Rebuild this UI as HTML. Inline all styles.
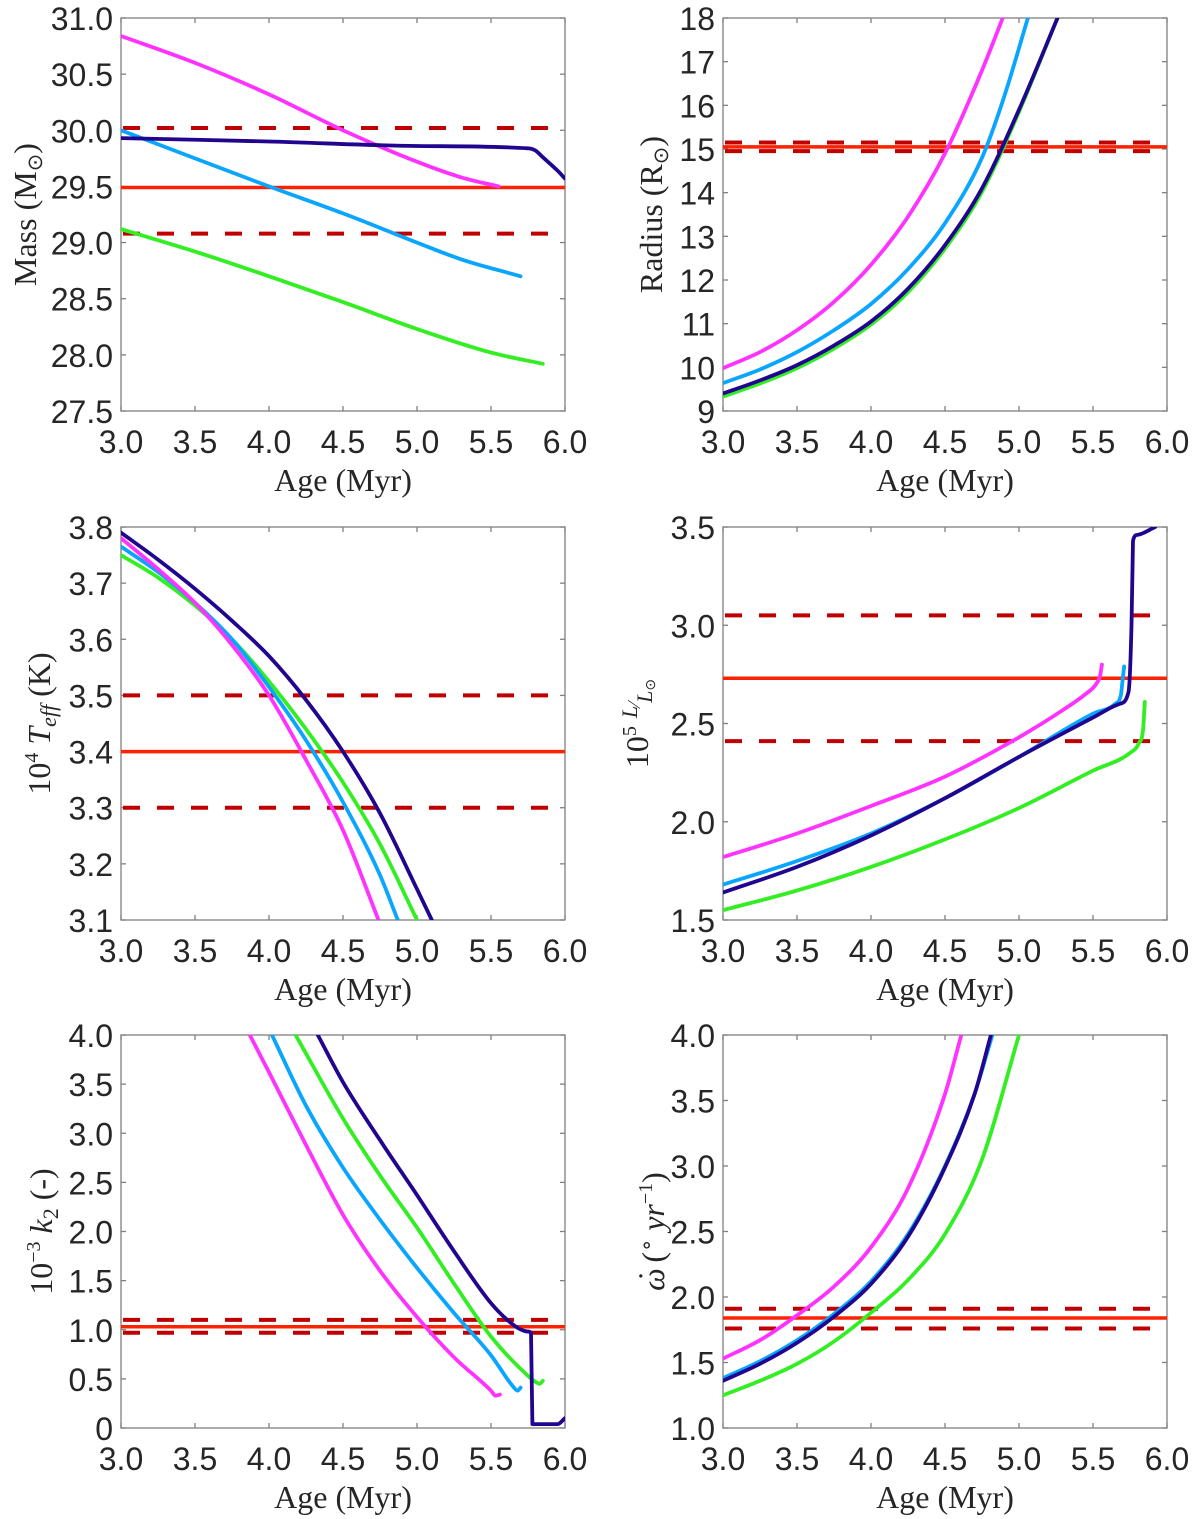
<!DOCTYPE html>
<html><head><meta charset="utf-8"><style>
html,body{margin:0;padding:0;background:#fff;}
svg{display:block;}
.tick{font-family:"Liberation Sans",sans-serif;font-size:32px;fill:#262626;}
.lab{font-family:"Liberation Serif",serif;font-size:32px;fill:#262626;}
</style></head><body>
<svg id="fig" width="1200" height="1519" viewBox="0 0 1200 1519" xmlns="http://www.w3.org/2000/svg"></svg>
<script>
// shared x axis
const xTicks=[3.0,3.5,4.0,4.5,5.0,5.5,6.0];
const xTickLabels=["3.0","3.5","4.0","4.5","5.0","5.5","6.0"];
// Panel 1: mass
const massYTicks=[27.5,28.0,28.5,29.0,29.5,30.0,30.5,31.0];
const massMagX=[3.0,3.5,4.0,4.5,5.0,5.3,5.55];
const massMagY=[30.84,30.6,30.32,30.0,29.72,29.58,29.5];
const massNavyX=[3.0,4.0,5.0,5.75,5.8,5.85,5.95,6.0];
const massNavyY=[29.93,29.9,29.86,29.84,29.82,29.76,29.64,29.57];
const massBlueX=[3.0,3.5,4.0,4.5,5.0,5.3,5.7];
const massBlueY=[30.0,29.75,29.5,29.26,29.0,28.85,28.7];
const massGreenX=[3.0,3.5,4.0,4.5,5.0,5.5,5.85];
const massGreenY=[29.12,28.92,28.7,28.47,28.23,28.02,27.92];
const massRef=[29.49,30.02,29.08];
// Panel 2: radius
const radYTicks=[9,10,11,12,13,14,15,16,17,18];
const radMagX=[3.0,3.25,3.5,3.75,4.0,4.25,4.5,4.75,4.89];
const radMagY=[9.98,10.35,10.85,11.5,12.35,13.45,14.9,16.8,18.0];
const radBlueX=[3.0,3.25,3.5,3.75,4.0,4.25,4.5,4.75,4.9,5.06];
const radBlueY=[9.64,9.95,10.35,10.85,11.45,12.25,13.3,14.8,16.2,18.0];
const radNavyX=[3.0,3.25,3.5,3.75,4.0,4.25,4.5,4.75,5.0,5.26];
const radNavyY=[9.4,9.7,10.05,10.5,11.05,11.8,12.8,14.1,15.9,18.0];
const radGreenX=[3.0,3.25,3.5,3.75,4.0,4.25,4.5,4.75,5.0,5.26];
const radGreenY=[9.33,9.63,9.98,10.43,10.98,11.72,12.72,14.02,15.85,18.0];
const radRef=[15.05,15.15,14.95];
// Panel 3: Teff
const teffYTicks=[3.1,3.2,3.3,3.4,3.5,3.6,3.7,3.8];
const teffNavyX=[3.0,3.25,3.5,3.75,4.0,4.25,4.5,4.75,5.0,5.1];
const teffNavyY=[3.79,3.742,3.69,3.633,3.57,3.492,3.40,3.29,3.155,3.1];
const teffGreenX=[3.0,3.25,3.5,3.75,4.0,4.25,4.5,4.75,5.0];
const teffGreenY=[3.75,3.71,3.66,3.6,3.525,3.44,3.345,3.235,3.1];
const teffBlueX=[3.0,3.25,3.5,3.75,4.0,4.25,4.5,4.75,4.87];
const teffBlueY=[3.765,3.72,3.665,3.6,3.515,3.42,3.31,3.18,3.1];
const teffMagX=[3.0,3.25,3.5,3.75,4.0,4.25,4.5,4.74];
const teffMagY=[3.78,3.725,3.665,3.59,3.5,3.385,3.26,3.1];
const teffRef=[3.4,3.5,3.3];
// Panel 4: luminosity
const lumYTicks=[1.5,2.0,2.5,3.0,3.5];
const lumYTickLabels=["1.5","2.0","2.5","3.0","3.5"];
const lumMagX=[3.0,3.5,4.0,4.5,5.0,5.3,5.45,5.52,5.55,5.56];
const lumMagY=[1.82,1.94,2.08,2.23,2.43,2.57,2.65,2.7,2.75,2.8];
const lumBlueX=[3.0,3.5,4.0,4.5,5.0,5.5,5.65,5.69,5.7,5.71];
const lumBlueY=[1.68,1.8,1.94,2.12,2.33,2.55,2.6,2.65,2.72,2.79];
const lumNavyX=[3.0,3.5,4.0,4.5,5.0,5.5,5.68,5.74,5.76,5.77,5.8,5.92];
const lumNavyY=[1.64,1.77,1.93,2.12,2.33,2.53,2.6,2.66,3.0,3.43,3.46,3.5];
const lumGreenX=[3.0,3.5,4.0,4.5,5.0,5.5,5.75,5.81,5.84,5.85];
const lumGreenY=[1.55,1.65,1.77,1.91,2.07,2.26,2.35,2.4,2.48,2.61];
const lumRef=[2.73,3.05,2.41];
// Panel 5: k2
const k2YTicks=[0,0.5,1.0,1.5,2.0,2.5,3.0,3.5,4.0];
const k2YTickLabels=["0","0.5","1.0","1.5","2.0","2.5","3.0","3.5","4.0"];
const k2MagX=[3.87,4.0,4.25,4.5,4.75,5.0,5.25,5.5,5.53,5.56];
const k2MagY=[4.0,3.62,2.88,2.17,1.6,1.13,0.72,0.38,0.33,0.34];
const k2BlueX=[4.02,4.25,4.5,4.75,5.0,5.25,5.5,5.65,5.68,5.7];
const k2BlueY=[4.0,3.28,2.65,2.12,1.63,1.17,0.74,0.42,0.38,0.41];
const k2GreenX=[4.18,4.5,4.75,5.0,5.25,5.5,5.75,5.8,5.83,5.85];
const k2GreenY=[4.0,3.15,2.57,2.04,1.47,0.93,0.53,0.47,0.45,0.48];
const k2NavyX=[4.33,4.5,4.75,5.0,5.25,5.5,5.65,5.72,5.76,5.77,5.78,5.95,6.0];
const k2NavyY=[4.0,3.52,2.93,2.37,1.8,1.27,1.05,0.99,0.98,0.97,0.04,0.04,0.1];
const k2Ref=[1.03,1.10,0.97];
// Panel 6: omega dot
const omYTicks=[1.0,1.5,2.0,2.5,3.0,3.5,4.0];
const omMagX=[3.0,3.25,3.5,3.75,4.0,4.25,4.5,4.61];
const omMagY=[1.53,1.67,1.86,2.08,2.38,2.83,3.55,4.0];
const omBlueX=[3.0,3.25,3.5,3.75,4.0,4.25,4.5,4.7,4.82];
const omBlueY=[1.38,1.51,1.67,1.87,2.12,2.48,3.0,3.55,4.0];
const omNavyX=[3.0,3.25,3.5,3.75,4.0,4.25,4.5,4.7,4.81];
const omNavyY=[1.36,1.49,1.65,1.85,2.1,2.46,2.99,3.55,4.0];
const omGreenX=[3.0,3.25,3.5,3.75,4.0,4.25,4.5,4.75,5.0];
const omGreenY=[1.25,1.36,1.49,1.66,1.88,2.13,2.48,3.05,4.0];
const omRef=[1.84,1.91,1.76];

const NS="http://www.w3.org/2000/svg";
const svg=document.getElementById('fig');
const COL={mag:"#ff33ff",blue:"#0aa5ff",green:"#33ee22",navy:"#22058f",red:"#ff2200",dred:"#c00000"};
function mk(tag,attrs,parent){const e=document.createElementNS(NS,tag);for(const k in attrs)e.setAttribute(k,attrs[k]);(parent||svg).appendChild(e);return e;}

// monotone cubic (Fritsch-Carlson) path in pixel space
function smoothPath(px,py){
  const n=px.length;if(n<2)return '';
  const d=[],m=new Array(n);
  for(let i=0;i<n-1;i++){const dx=px[i+1]-px[i];d.push(dx===0?0:(py[i+1]-py[i])/dx);}
  m[0]=d[0];m[n-1]=d[n-2];
  for(let i=1;i<n-1;i++){m[i]=(d[i-1]*d[i]<=0)?0:(d[i-1]+d[i])/2;}
  for(let i=0;i<n-1;i++){if(d[i]===0){m[i]=0;m[i+1]=0;continue;}const a=m[i]/d[i],b=m[i+1]/d[i],s=a*a+b*b;if(s>9){const t=3/Math.sqrt(s);m[i]=t*a*d[i];m[i+1]=t*b*d[i];}}
  let s='M'+px[0].toFixed(1)+','+py[0].toFixed(1);
  for(let i=0;i<n-1;i++){const h=(px[i+1]-px[i])/3;
    if(Math.abs(px[i+1]-px[i])<2){s+=' L'+px[i+1].toFixed(1)+','+py[i+1].toFixed(1);continue;}
    s+=' C'+(px[i]+h).toFixed(1)+','+(py[i]+m[i]*h).toFixed(1)+' '+(px[i+1]-h).toFixed(1)+','+(py[i+1]-m[i+1]*h).toFixed(1)+' '+px[i+1].toFixed(1)+','+py[i+1].toFixed(1);}
  return s;
}

function panel(o){
  const g=mk('g',{});
  
  
  const L=o.x0,R=o.x0+444,T=o.y0,B=o.y0+393;
  const sx=v=>L+(v-3)/3*(R-L);
  const sy=v=>B-(v-o.ymin)/(o.ymax-o.ymin)*(B-T);
  const clip='c'+o.name;
  const cp=mk('clipPath',{id:clip},g);mk('rect',{x:L,y:T,width:R-L,height:B-T},cp);
  const box=mk('rect',{x:L,y:T,width:R-L,height:B-T,fill:'none',stroke:'#808080','stroke-width':1.3},g);
  
  
  xTicks.forEach((t,i)=>{
    const x=sx(t);
    mk('line',{x1:x,y1:B,x2:x,y2:B-5,stroke:'#808080','stroke-width':1.3},g);
    mk('line',{x1:x,y1:T,x2:x,y2:T+5,stroke:'#808080','stroke-width':1.3},g);
    const tx=mk('text',{x:x,y:B+42,'text-anchor':'middle',class:'tick'},g);
    tx.textContent=xTickLabels[i];
    
    
  });
  o.yt.forEach((t,i)=>{
    const y=sy(t);
    mk('line',{x1:L,y1:y,x2:L+5,y2:y,stroke:'#808080','stroke-width':1.3},g);
    mk('line',{x1:R,y1:y,x2:R-5,y2:y,stroke:'#808080','stroke-width':1.3},g);
    const tx=mk('text',{x:L-8,y:y+12,'text-anchor':'end',class:'tick'},g);
    tx.textContent=o.ytl?o.ytl[i]:(o.dec?t.toFixed(o.dec):String(t));
    
    
  });
  const xl=mk('text',{x:(L+R)/2,y:B+80,'text-anchor':'middle',class:'lab'},g);
  xl.textContent='Age (Myr)';
  
  
  const yl=mk('text',{x:0,y:0,'text-anchor':'middle',class:'lab',transform:`translate(${o.ylx},${(T+B)/2}) rotate(-90)`},g);
  yl.innerHTML=o.ylabel;
  
  
  const pg=mk('g',{'clip-path':`url(#${clip})`},g);
  const r0=mk('line',{x1:L,x2:R,y1:sy(o.ref[0]),y2:sy(o.ref[0]),stroke:COL.red,'stroke-width':3.5},pg);
  
  
  [o.ref[1],o.ref[2]].forEach(v=>{
    const d=mk('line',{x1:L+2,x2:R,y1:sy(v),y2:sy(v),stroke:COL.dred,'stroke-width':4,'stroke-dasharray':'17 17'},pg);
    
    
  });
  o.series.forEach(s=>{
    const p=mk('path',{d:smoothPath(s.x.map(sx),s.y.map(sy)),fill:'none',stroke:s.c,'stroke-width':3.8,'stroke-linejoin':'round','stroke-linecap':'round'},pg);
    
    
  });
}
panel({name:'mass-panel',x0:121,y0:18,ymin:27.5,ymax:31,yt:massYTicks,dec:1,ylx:36,
  ylabel:'Mass (M<tspan font-size="21" dy="6">⊙</tspan><tspan dy="-6">)</tspan>',ref:massRef,
  series:[{n:'mass-magenta',c:COL.mag,x:massMagX,y:massMagY},{n:'mass-green',c:COL.green,x:massGreenX,y:massGreenY},{n:'mass-blue',c:COL.blue,x:massBlueX,y:massBlueY},{n:'mass-navy',c:COL.navy,x:massNavyX,y:massNavyY}]});
panel({name:'radius-panel',x0:723,y0:18,ymin:9,ymax:18,yt:radYTicks,ylx:662,
  ylabel:'Radius (R<tspan font-size="21" dy="6">⊙</tspan><tspan dy="-6">)</tspan>',ref:radRef,
  series:[{n:'radius-green',c:COL.green,x:radGreenX,y:radGreenY},{n:'radius-navy',c:COL.navy,x:radNavyX,y:radNavyY},{n:'radius-blue',c:COL.blue,x:radBlueX,y:radBlueY},{n:'radius-magenta',c:COL.mag,x:radMagX,y:radMagY}]});
panel({name:'teff-panel',x0:121,y0:527,ymin:3.1,ymax:3.8,yt:teffYTicks,dec:1,ylx:50,
  ylabel:'10<tspan font-size="20" dy="-12">4</tspan><tspan dy="12"> </tspan><tspan font-style="italic">T</tspan><tspan font-style="italic" font-size="22" dy="6">eff</tspan><tspan dy="-6"> (K)</tspan>',ref:teffRef,
  series:[{n:'teff-green',c:COL.green,x:teffGreenX,y:teffGreenY},{n:'teff-blue',c:COL.blue,x:teffBlueX,y:teffBlueY},{n:'teff-magenta',c:COL.mag,x:teffMagX,y:teffMagY},{n:'teff-navy',c:COL.navy,x:teffNavyX,y:teffNavyY}]});
panel({name:'luminosity-panel',x0:723,y0:527,ymin:1.5,ymax:3.5,yt:lumYTicks,ytl:lumYTickLabels,ylx:648,
  ylabel:'10<tspan font-size="20" dy="-12">5</tspan><tspan dy="12"> </tspan><tspan font-style="italic" font-size="22" dy="-11">L</tspan><tspan font-size="18" dy="3">⁄</tspan><tspan font-style="italic" font-size="22" dy="12">L</tspan><tspan font-size="14" dy="3">⊙</tspan>',ref:lumRef,
  series:[{n:'lum-magenta',c:COL.mag,x:lumMagX,y:lumMagY},{n:'lum-green',c:COL.green,x:lumGreenX,y:lumGreenY},{n:'lum-blue',c:COL.blue,x:lumBlueX,y:lumBlueY},{n:'lum-navy',c:COL.navy,x:lumNavyX,y:lumNavyY}]});
panel({name:'k2-panel',x0:121,y0:1035,ymin:0,ymax:4,yt:k2YTicks,ytl:k2YTickLabels,ylx:52,
  ylabel:'10<tspan font-size="20" dy="-12">−3</tspan><tspan dy="12"> </tspan><tspan font-style="italic">k</tspan><tspan font-size="22" dy="6">2</tspan><tspan dy="-6"> (-)</tspan>',ref:k2Ref,
  series:[{n:'k2-magenta',c:COL.mag,x:k2MagX,y:k2MagY},{n:'k2-blue',c:COL.blue,x:k2BlueX,y:k2BlueY},{n:'k2-green',c:COL.green,x:k2GreenX,y:k2GreenY},{n:'k2-navy',c:COL.navy,x:k2NavyX,y:k2NavyY}]});
panel({name:'omega-dot-panel',x0:723,y0:1035,ymin:1,ymax:4,yt:omYTicks,dec:1,ylx:664,
  ylabel:'<tspan font-style="italic">ω</tspan><tspan dx="-13" dy="-4">˙</tspan><tspan dx="8" dy="4">(</tspan><tspan font-size="21" dy="-10">∘</tspan><tspan dy="10" font-style="italic"> yr</tspan><tspan font-size="20" dy="-12">−1</tspan><tspan dy="12">)</tspan>',ref:omRef,
  series:[{n:'omega-green',c:COL.green,x:omGreenX,y:omGreenY},{n:'omega-magenta',c:COL.mag,x:omMagX,y:omMagY},{n:'omega-blue',c:COL.blue,x:omBlueX,y:omBlueY},{n:'omega-navy',c:COL.navy,x:omNavyX,y:omNavyY}]});
</script>
</body></html>
